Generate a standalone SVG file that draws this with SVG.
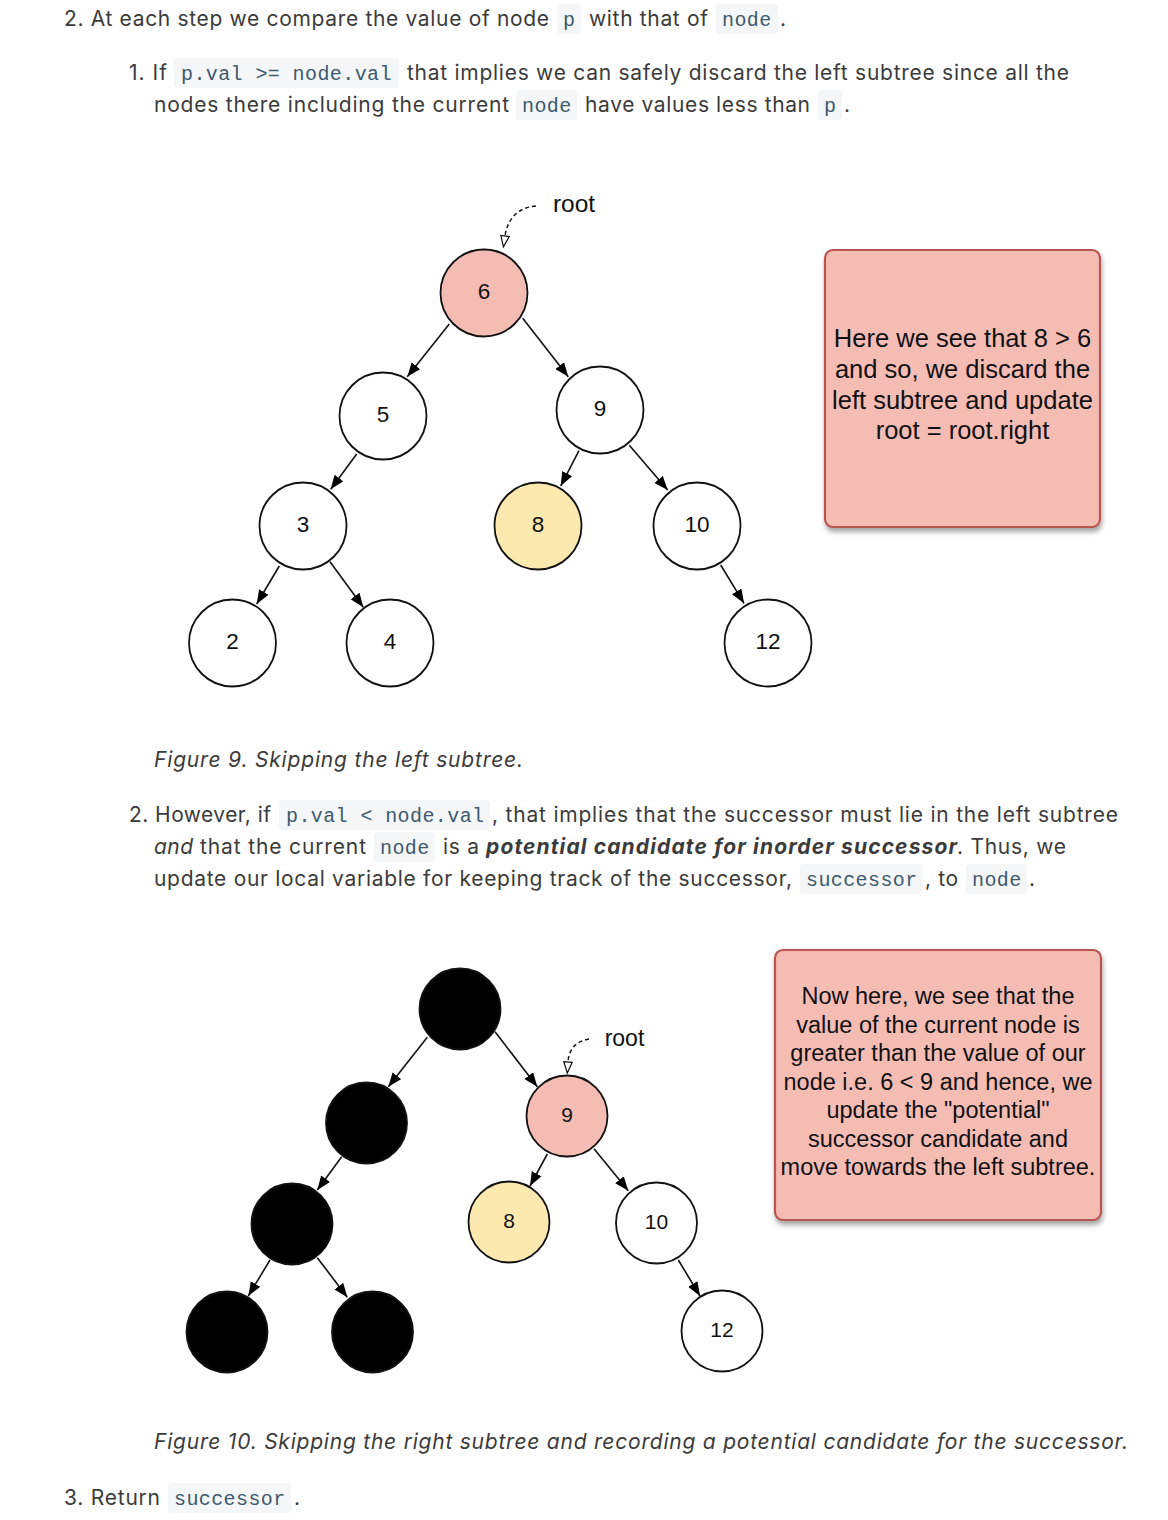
<svg xmlns="http://www.w3.org/2000/svg" width="1168" height="1520" viewBox="0 0 1168 1520">
<style>
.t{font-family:Inter,"Liberation Sans",sans-serif;font-size:21px;fill:#3b3b3b}
.i{font-style:italic}
.bi{font-style:italic;font-weight:bold}
.cb{fill:#f4f6f8}
.c{font-family:"Liberation Mono",monospace;font-size:20px;letter-spacing:0.4px;fill:#3d5a6e}
.n{stroke:#111;stroke-width:1.8}
.w{fill:#fff}
.pk{fill:#f5bcb4}
.yl{fill:#fce9b0}
.bk{fill:#000}
.lb{font-family:"Liberation Sans",Arial,sans-serif;fill:#111;text-anchor:middle}
.e{stroke:#111;stroke-width:1.6;fill:none;marker-end:url(#ah)}
.d{stroke:#111;stroke-width:1.5;fill:none;stroke-dasharray:4 3;marker-end:url(#oh)}
.box{fill:#f5bcb4;stroke:#b85450;stroke-width:2.2;filter:url(#sh)}
.bt{font-family:"Liberation Sans",Arial,sans-serif;fill:#111;text-anchor:middle}
</style>
<defs>
<marker id="ah" markerUnits="userSpaceOnUse" markerWidth="15" markerHeight="12" refX="14" refY="5.5" orient="auto"><path d="M0,0 L14,5.5 L0,11 z" fill="#000"/></marker>
<marker id="oh" markerUnits="userSpaceOnUse" markerWidth="14" markerHeight="12" refX="1" refY="5" orient="auto"><path d="M1,0.8 L12,5 L1,9.2 z" fill="#fff" stroke="#111" stroke-width="1.2"/></marker>
<filter id="sh" x="-10%" y="-10%" width="125%" height="125%"><feDropShadow dx="1" dy="4" stdDeviation="2.5" flood-color="#000" flood-opacity="0.35"/></filter>
</defs>

<g id="text-top">
<text class="t" x="64" y="26" textLength="485" lengthAdjust="spacing">2. At each step we compare the value of node</text>
<rect class="cb" x="557" y="4" width="24" height="30" rx="4"/><text class="c" x="563" y="26">p</text>
<text class="t" x="589" y="26" textLength="119" lengthAdjust="spacing">with that of</text>
<rect class="cb" x="716" y="4" width="62" height="30" rx="4"/><text class="c" x="722" y="26">node</text>
<text class="t" x="780" y="26">.</text>

<text class="t" x="129" y="80" textLength="38" lengthAdjust="spacing">1. If</text>
<rect class="cb" x="174" y="58" width="225" height="30" rx="4"/><text class="c" x="181" y="80">p.val &gt;= node.val</text>
<text class="t" x="407" y="80" textLength="662" lengthAdjust="spacing">that implies we can safely discard the left subtree since all the</text>
<text class="t" x="154" y="112" textLength="355" lengthAdjust="spacing">nodes there including the current</text>
<rect class="cb" x="516" y="90" width="61" height="30" rx="4"/><text class="c" x="522" y="112">node</text>
<text class="t" x="585" y="112" textLength="225" lengthAdjust="spacing">have values less than</text>
<rect class="cb" x="818" y="90" width="24" height="30" rx="4"/><text class="c" x="824" y="112">p</text>
<text class="t" x="844" y="112">.</text>
</g>

<g id="connectors">
<path class="d" d="M536,206 C522,207 508,215 505,236"/>
<line class="e" x1="449.3" y1="324" x2="407.3" y2="376.7"/>
<line class="e" x1="522.7" y1="318.3" x2="568.3" y2="376.7"/>
<line class="e" x1="356.7" y1="454" x2="330.7" y2="489.3"/>
<line class="e" x1="579" y1="450.7" x2="560.7" y2="486"/>
<line class="e" x1="629.3" y1="445.3" x2="667.7" y2="490"/>
<line class="e" x1="279.3" y1="566" x2="256.7" y2="604"/>
<line class="e" x1="330" y1="561.7" x2="363.3" y2="607.3"/>
<line class="e" x1="720.7" y1="565" x2="744" y2="603.3"/>

<path class="d" d="M589,1039 C578,1041 569,1047 568,1062"/>
<line class="e" x1="427.3" y1="1037.3" x2="388.3" y2="1086.7"/>
<line class="e" x1="495" y1="1031.7" x2="537.3" y2="1086.7"/>
<line class="e" x1="341.7" y1="1156.7" x2="317.3" y2="1190"/>
<line class="e" x1="270" y1="1260" x2="248.3" y2="1296"/>
<line class="e" x1="317.3" y1="1257.7" x2="347.3" y2="1297.3"/>
<line class="e" x1="547.3" y1="1154" x2="530" y2="1186"/>
<line class="e" x1="594" y1="1148.7" x2="628.3" y2="1190.7"/>
<line class="e" x1="678.3" y1="1260" x2="700" y2="1296"/>
</g>

<g id="fig9">
<text class="lb" x="574" y="212" font-size="24.5">root</text>
<g id="f9-n6"><circle class="n pk" cx="484" cy="293" r="43.5"/><text class="lb" x="484" y="299" font-size="22.5">6</text></g>
<g id="f9-n5"><circle class="n w" cx="383" cy="416" r="43.5"/><text class="lb" x="383" y="422" font-size="22.5">5</text></g>
<g id="f9-n9"><circle class="n w" cx="600" cy="410" r="43.5"/><text class="lb" x="600" y="416" font-size="22.5">9</text></g>
<g id="f9-n3"><circle class="n w" cx="303" cy="526" r="43.5"/><text class="lb" x="303" y="532" font-size="22.5">3</text></g>
<g id="f9-n8"><circle class="n yl" cx="538" cy="526" r="43.5"/><text class="lb" x="538" y="532" font-size="22.5">8</text></g>
<g id="f9-n10"><circle class="n w" cx="697" cy="526" r="43.5"/><text class="lb" x="697" y="532" font-size="22.5">10</text></g>
<g id="f9-n2"><circle class="n w" cx="232.5" cy="643" r="43.5"/><text class="lb" x="232.5" y="649" font-size="22.5">2</text></g>
<g id="f9-n4"><circle class="n w" cx="390" cy="643" r="43.5"/><text class="lb" x="390" y="649" font-size="22.5">4</text></g>
<g id="f9-n12"><circle class="n w" cx="768" cy="643" r="43.5"/><text class="lb" x="768" y="649" font-size="22.5">12</text></g>
<g id="f9-note">
<rect class="box" x="825" y="250" width="275" height="277" rx="8"/>
<text class="bt" font-size="25.5"><tspan x="962.5" y="347.3">Here we see that 8 &gt; 6</tspan><tspan x="962.5" y="378">and so, we discard the</tspan><tspan x="962.5" y="408.7">left subtree and update</tspan><tspan x="962.5" y="439.3">root = root.right</tspan></text>
</g>
</g>

<text class="t i" x="154" y="767" textLength="369" lengthAdjust="spacing">Figure 9. Skipping the left subtree.</text>

<g id="text-mid">
<text class="t" x="129" y="822" textLength="142" lengthAdjust="spacing">2. However, if</text>
<rect class="cb" x="279" y="800" width="211" height="30" rx="4"/><text class="c" x="286" y="822">p.val &lt; node.val</text>
<text class="t" x="492" y="822" textLength="626" lengthAdjust="spacing">, that implies that the successor must lie in the left subtree</text>
<text class="t i" x="154" y="854" textLength="39" lengthAdjust="spacing">and</text>
<text class="t" x="200" y="854" textLength="166" lengthAdjust="spacing">that the current</text>
<rect class="cb" x="374" y="832" width="61" height="30" rx="4"/><text class="c" x="380" y="854">node</text>
<text class="t" x="443" y="854" textLength="36" lengthAdjust="spacing">is a</text>
<text class="t bi" x="486" y="854" textLength="471" lengthAdjust="spacing">potential candidate for inorder successor</text>
<text class="t" x="957" y="854" textLength="109" lengthAdjust="spacing">. Thus, we</text>
<text class="t" x="154" y="886" textLength="638" lengthAdjust="spacing">update our local variable for keeping track of the successor,</text>
<rect class="cb" x="800" y="864" width="123" height="30" rx="4"/><text class="c" x="806" y="886">successor</text>
<text class="t" x="925" y="886" textLength="33" lengthAdjust="spacing">, to</text>
<rect class="cb" x="966" y="864" width="61" height="30" rx="4"/><text class="c" x="972" y="886">node</text>
<text class="t" x="1029" y="886">.</text>
</g>

<g id="fig10">
<text class="lb" x="624.5" y="1046" font-size="23">root</text>
<g id="f10-top"><circle class="n bk" cx="460" cy="1009" r="40.5"/></g>
<g id="f10-l1"><circle class="n bk" cx="366.5" cy="1123" r="40.5"/></g>
<g id="f10-n9"><circle class="n pk" cx="567" cy="1116" r="40.5"/><text class="lb" x="567" y="1122" font-size="21">9</text></g>
<g id="f10-l2"><circle class="n bk" cx="292" cy="1224" r="40.5"/></g>
<g id="f10-n8"><circle class="n yl" cx="509" cy="1222" r="40.5"/><text class="lb" x="509" y="1228" font-size="21">8</text></g>
<g id="f10-n10"><circle class="n w" cx="656.5" cy="1223" r="40.5"/><text class="lb" x="656.5" y="1229" font-size="21">10</text></g>
<g id="f10-l3"><circle class="n bk" cx="227" cy="1332" r="40.5"/></g>
<g id="f10-l4"><circle class="n bk" cx="372.5" cy="1332" r="40.5"/></g>
<g id="f10-n12"><circle class="n w" cx="722" cy="1331" r="40.5"/><text class="lb" x="722" y="1337" font-size="21">12</text></g>
<g id="f10-note">
<rect class="box" x="775" y="950" width="326" height="270" rx="8"/>
<text class="bt" font-size="23.5"><tspan x="938" y="1004">Now here, we see that the</tspan><tspan x="938" y="1032.5">value of the current node is</tspan><tspan x="938" y="1061">greater than the value of our</tspan><tspan x="938" y="1089.5">node i.e. 6 &lt; 9 and hence, we</tspan><tspan x="938" y="1118">update the "potential"</tspan><tspan x="938" y="1146.5">successor candidate and</tspan><tspan x="938" y="1175">move towards the left subtree.</tspan></text>
</g>
</g>

<text class="t i" x="154" y="1449" textLength="974" lengthAdjust="spacing">Figure 10. Skipping the right subtree and recording a potential candidate for the successor.</text>

<g id="text-bottom">
<text class="t" x="64" y="1505" textLength="96" lengthAdjust="spacing">3. Return</text>
<rect class="cb" x="168" y="1483" width="123" height="30" rx="4"/><text class="c" x="174" y="1505">successor</text>
<text class="t" x="294" y="1505">.</text>
</g>
</svg>
